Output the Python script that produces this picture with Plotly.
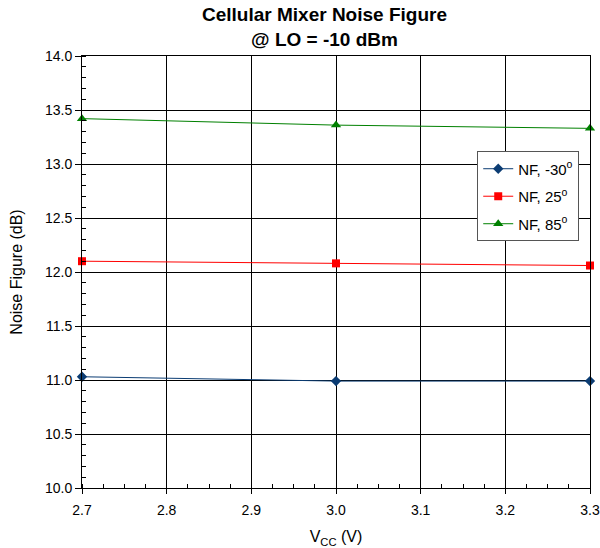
import plotly.graph_objects as go

# Supply voltage (V) and measured noise figure (dB) per temperature
vcc = [2.7, 3.0, 3.3]
nf_m30 = [11.03, 10.99, 10.99]
nf_25 = [12.10, 12.08, 12.06]
nf_85 = [13.42, 13.36, 13.33]

series = [
    ("NF, -30<sup>o</sup>", nf_m30, "#0B3C73", "diamond", 8),
    ("NF, 25<sup>o</sup>", nf_25, "#FF0000", "square", 8),
    ("NF, 85<sup>o</sup>", nf_85, "#008000", "triangle-up", 9),
]

fig = go.Figure()
for i, (name, vals, color, sym, size) in enumerate(series):
    fig.add_trace(go.Scatter(
        x=vcc, y=vals, name=name, mode="lines+markers",
        legendgroup=f"g{i}",
        line=dict(color=color, width=1),
        marker=dict(symbol=sym, size=size, color=color),
        cliponaxis=False,
    ))

font = "Liberation Sans, Arial, sans-serif"
fig.update_layout(
    width=600, height=548,
    margin=dict(l=82, r=10, t=56, b=60),
    paper_bgcolor="white", plot_bgcolor="white",
    font=dict(family=font, size=14, color="black"),
    legend=dict(
        x=0.778, y=0.779, xanchor="left", yanchor="top",
        bgcolor="white", bordercolor="#555555", borderwidth=1,
        font=dict(size=15), tracegroupgap=5,
    ),
    xaxis=dict(
        range=[2.7, 3.3], dtick=0.1, tick0=2.7, tickformat=".1f",
        showgrid=True, gridcolor="black", gridwidth=1,
        showline=True, linecolor="black", linewidth=1, mirror=True,
        ticks="outside", ticklen=5, tickcolor="black", ticklabelstandoff=4,
        minor=dict(dtick=0.025, ticks="inside", ticklen=4, tickcolor="black", showgrid=False),
        title=dict(text="V<sub>CC</sub> (V)", font=dict(size=16), standoff=14),
        tickfont=dict(size=14),
        zeroline=False, automargin=False,
    ),
    yaxis=dict(
        range=[10.0, 14.0], dtick=0.5, tickformat=".1f",
        showgrid=True, gridcolor="black", gridwidth=1,
        showline=True, linecolor="black", linewidth=1, mirror=True,
        ticks="outside", ticklen=6, tickcolor="black",
        minor=dict(dtick=0.1, ticks="inside", ticklen=4, tickcolor="black", showgrid=False),
        title=dict(text="Noise Figure (dB)", font=dict(size=16), standoff=18),
        tickfont=dict(size=14),
        zeroline=False, automargin=False,
    ),
)

# Two-line bold chart title
fig.add_annotation(
    text="<b>Cellular Mixer Noise Figure<br>@ LO = -10 dBm</b>",
    xref="paper", yref="paper", x=0.478, y=1, xanchor="center", yanchor="bottom",
    yshift=4, showarrow=False, font=dict(size=19, family=font),
)

fig.write_html("out.html")
